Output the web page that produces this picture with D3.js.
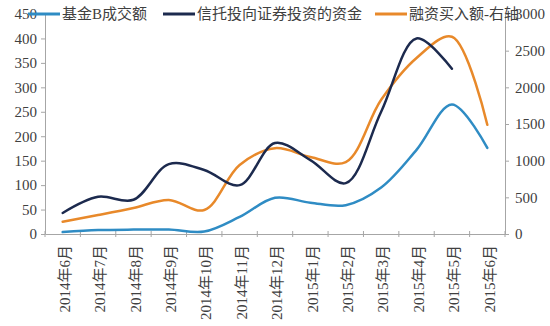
<!DOCTYPE html>
<html><head><meta charset="utf-8">
<script src="https://cdn.jsdelivr.net/npm/d3@7"></script>
<style>body{margin:0;background:#fff}svg{display:block}</style>
</head><body><svg id="c" width="550" height="326"></svg>
<script>
const categories = ["2014年6月","2014年7月","2014年8月","2014年9月","2014年10月","2014年11月","2014年12月","2015年1月","2015年2月","2015年3月","2015年4月","2015年5月","2015年6月"];
const fundB = [4, 8, 9, 9, 5, 35, 74, 64, 59, 95, 172, 265, 176];
const trust = [43, 76, 70, 143, 131, 100, 186, 151, 104, 250, 400, 338, null];
const margin = [168, 259, 355, 464, 327, 941, 1170, 1050, 980, 1830, 2400, 2690, 1490];
const leftTicks = [0,50,100,150,200,250,300,350,400,450];
const rightTicks = [0,500,1000,1500,2000,2500,3000];
const seriesNames = ["基金B成交额","信托投向证券投资的资金","融资买入额-右轴"];
const colors = ["#2f8cc4","#1c2a4e","#e8892a"];

const FONT = "Liberation Serif, Noto Sans CJK SC";
const svg = d3.select("#c");
const X0 = 45, X1 = 505, Y0 = 234, Y1 = 14;
const x = d3.scaleBand().domain(categories).range([X0, X1]);
const yL = d3.scaleLinear().domain([0,450]).range([Y0, Y1]);
const yR = d3.scaleLinear().domain([0,3000]).range([Y0, Y1]);
const axisColor = "#a6a6a6", textColor = "#404040";

function style(g){
  g.attr("font-family", FONT).attr("font-size", 15);
  g.selectAll(".domain").attr("stroke", axisColor);
  g.selectAll(".tick line").attr("stroke", axisColor);
  g.selectAll("text").attr("fill", textColor).attr("font-family", FONT).attr("font-size", 15);
}
const gl = svg.append("g").attr("transform",`translate(${X0},0)`)
  .call(d3.axisLeft(yL).tickValues(leftTicks).tickFormat(d3.format("d")).tickSize(4).tickSizeOuter(0).tickPadding(4));
style(gl);
const gr = svg.append("g").attr("transform",`translate(${X1},0)`)
  .call(d3.axisRight(yR).tickValues(rightTicks).tickFormat(d3.format("d")).tickSize(4).tickSizeOuter(0).tickPadding(6));
style(gr);
const gx = svg.append("g").attr("transform",`translate(0,${Y0})`)
  .call(d3.axisBottom(x).tickSize(0).tickSizeOuter(0).tickPadding(0));
style(gx);
gx.selectAll(".tick text")
  .attr("transform","rotate(-90)")
  .attr("x",-11).attr("y",2).attr("dy","0.35em")
  .style("text-anchor","end");
const bounds = categories.map(c => x(c)).concat([X1]);
gx.selectAll("line.bt").data(bounds).enter().append("line")
  .attr("x1",d=>d).attr("x2",d=>d).attr("y1",-3).attr("y2",3)
  .attr("stroke",axisColor);

const cx = c => x(c) + x.bandwidth()/2;
const line = (yS) => d3.line()
  .defined(d => d[1] != null)
  .x(d => cx(d[0])).y(d => yS(d[1]))
  .curve(d3.curveCatmullRom.alpha(0.5));

const data = [
  {vals: fundB, y: yL, c: colors[0]},
  {vals: trust, y: yL, c: colors[1]},
  {vals: margin, y: yR, c: colors[2]}
];
[data[2], data[0], data[1]].forEach(s => {
  svg.append("path")
    .datum(categories.map((c,i)=>[c, s.vals[i]]))
    .attr("fill","none").attr("stroke",s.c).attr("stroke-width",2.5)
    .attr("stroke-linejoin","round").attr("stroke-linecap","round")
    .attr("d", line(s.y));
});

const legX = [28, 163, 375];
const lg = svg.append("g");
seriesNames.forEach((n,i) => {
  lg.append("line").attr("x1",legX[i]).attr("x2",legX[i]+32).attr("y1",14).attr("y2",14)
    .attr("stroke",colors[i]).attr("stroke-width",3);
  lg.append("text").attr("x",legX[i]+34).attr("y",14).attr("dy","0.35em")
    .attr("fill",textColor).attr("font-family",FONT).attr("font-size",15).text(n);
});
</script></body></html>
